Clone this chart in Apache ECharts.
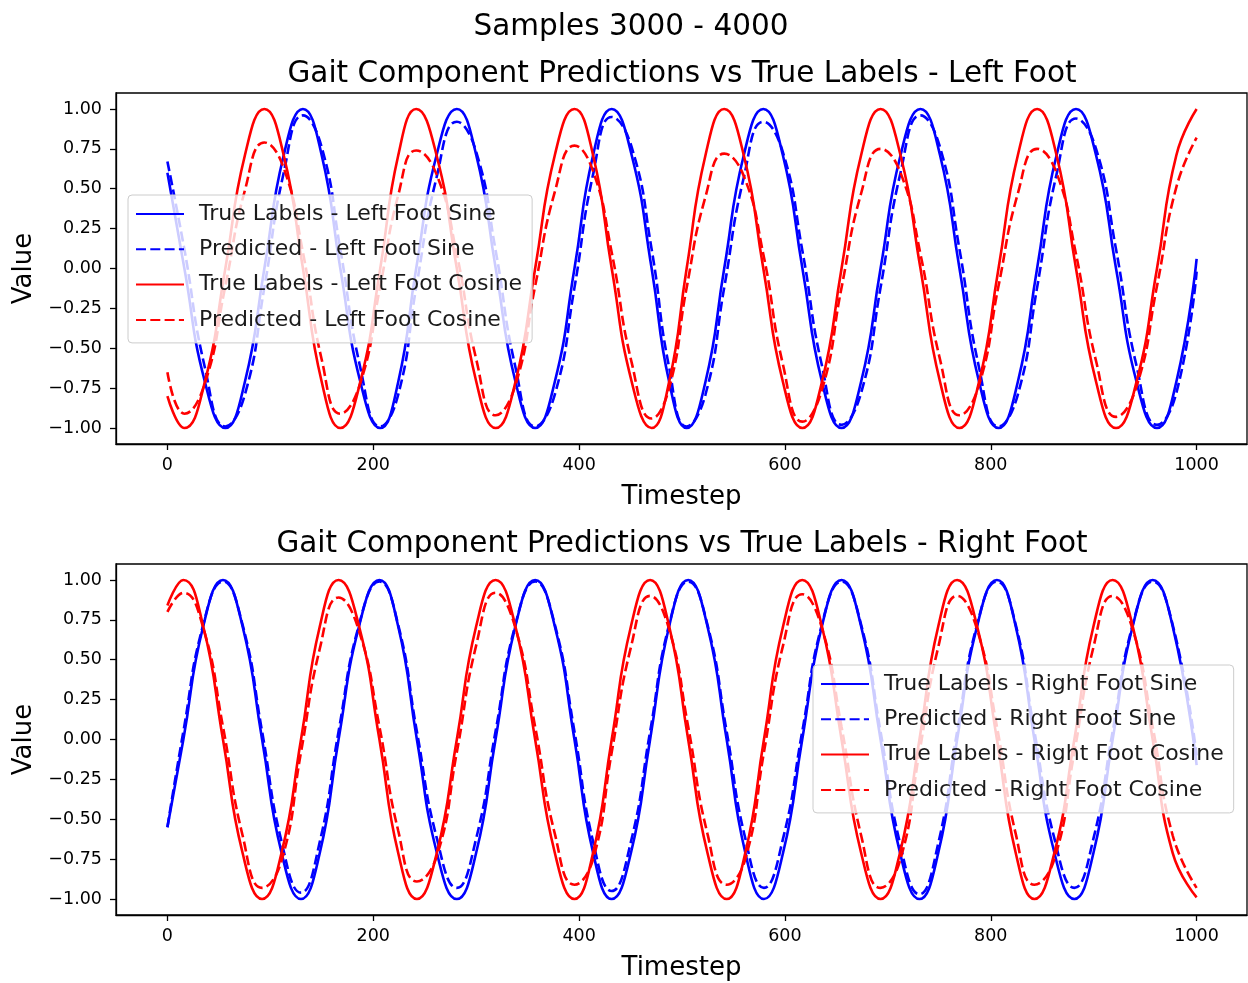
<!DOCTYPE html>
<html>
<head>
<meta charset="utf-8">
<title>Gait Component Predictions vs True Labels</title>
<script src="https://cdn.jsdelivr.net/npm/echarts@6/dist/echarts.min.js"></script>
<style>
  html, body { margin: 0; padding: 0; background: #ffffff; }
  #chart { width: 1248px; height: 983px; }
</style>
</head>
<body>
<div id="chart"></div>
<script>
// ---- Left foot: sample timesteps and component values ----
const leftT = [0, 16.5, 36.4, 56.3, 75.3, 94.2, 113, 131.7, 149.9, 168, 187.4, 206.8, 224.3, 241.7,
  261.5, 281.2, 300.1, 319, 338.2, 357.3, 376.4, 395.5, 413.6, 431.7, 451.1, 470.5, 487.5, 504.5,
  522.8, 541, 560, 579, 598, 617, 636, 655, 674, 692.9, 712.3, 731.7, 750.7, 769.6, 788.6, 807.5,
  826.3, 845, 863.9, 882.8, 902.3, 921.7, 941.6, 961.5, 980.3, 1000];

const leftSinTrue = [0.60,
  0, -0.71, -1, -0.71, 0, 0.71, 1, 0.71,
  0, -0.71, -1, -0.71, 0, 0.71, 1, 0.71,
  0, -0.71, -1, -0.71, 0, 0.71, 1, 0.71,
  0, -0.71, -1, -0.71, 0, 0.71, 1, 0.71,
  0, -0.71, -1, -0.71, 0, 0.71, 1, 0.71,
  0, -0.71, -1, -0.71, 0, 0.71, 1, 0.71,
  0, -0.71, -1, -0.71,
  0.06];

const leftSinPred = [0.67,
  0.12, -0.62, -0.99, -0.79, -0.12, 0.60, 0.96, 0.76,
  0.12, -0.62, -0.99, -0.79, -0.12, 0.57, 0.92, 0.73,
  0.11, -0.62, -0.99, -0.79, -0.12, 0.59, 0.95, 0.76,
  0.12, -0.62, -0.99, -0.79, -0.12, 0.57, 0.92, 0.73,
  0.11, -0.61, -0.98, -0.78, -0.12, 0.60, 0.96, 0.76,
  0.12, -0.62, -0.99, -0.79, -0.12, 0.59, 0.94, 0.75,
  0.12, -0.61, -0.98, -0.78,
  -0.02];

const leftCosTrue = [-0.80,
  -1, -0.71, 0, 0.71, 1, 0.71, 0, -0.71,
  -1, -0.71, 0, 0.71, 1, 0.71, 0, -0.71,
  -1, -0.71, 0, 0.71, 1, 0.71, 0, -0.71,
  -1, -0.71, 0, 0.71, 1, 0.71, 0, -0.71,
  -1, -0.71, 0, 0.71, 1, 0.71, 0, -0.71,
  -1, -0.71, 0, 0.71, 1, 0.71, 0, -0.71,
  -1, -0.71, 0, 0.71,
  1.00];

const leftCosPred = [-0.65,
  -0.91, -0.72, -0.11, 0.49, 0.79, 0.63, 0.10, -0.57,
  -0.91, -0.72, -0.11, 0.46, 0.74, 0.59, 0.09, -0.57,
  -0.92, -0.73, -0.11, 0.48, 0.77, 0.61, 0.10, -0.59,
  -0.94, -0.75, -0.12, 0.45, 0.72, 0.58, 0.09, -0.60,
  -0.96, -0.76, -0.12, 0.47, 0.75, 0.60, 0.09, -0.57,
  -0.92, -0.73, -0.11, 0.47, 0.75, 0.60, 0.09, -0.58,
  -0.93, -0.74, -0.11, 0.51,
  0.82];

// ---- Right foot: sample timesteps and component values ----
const rightT = [0, 15.5, 34.8, 54, 73, 92, 110.9, 129.8, 148.1, 166.3, 186.2, 206, 224.2, 242.4,
  261.8, 281.2, 300, 318.8, 338.1, 357.3, 376.4, 395.5, 413.6, 431.7, 450.4, 469, 487.5, 506,
  524.7, 543.4, 561.5, 579.6, 598.2, 616.8, 635.9, 655, 674, 692.9, 711.8, 730.7, 749, 767.3,
  786.7, 806, 824.2, 842.4, 861.8, 881.2, 899.8, 918.4, 937.9, 957.3, 976.7, 1000];

const rightSinTrue = [-0.55,
  0, 0.71, 1, 0.71, 0, -0.71, -1, -0.71,
  0, 0.71, 1, 0.71, 0, -0.71, -1, -0.71,
  0, 0.71, 1, 0.71, 0, -0.71, -1, -0.71,
  0, 0.71, 1, 0.71, 0, -0.71, -1, -0.71,
  0, 0.71, 1, 0.71, 0, -0.71, -1, -0.71,
  0, 0.71, 1, 0.71, 0, -0.71, -1, -0.71,
  0, 0.71, 1, 0.71,
  -0.16];

const rightSinPred = [-0.55,
  0.05, 0.72, 0.99, 0.72, 0.05, -0.64, -0.96, -0.64,
  0.05, 0.72, 0.99, 0.72, 0.05, -0.62, -0.93, -0.62,
  0.05, 0.72, 0.99, 0.72, 0.05, -0.64, -0.95, -0.64,
  0.05, 0.72, 0.99, 0.72, 0.05, -0.62, -0.93, -0.62,
  0.05, 0.72, 0.99, 0.72, 0.05, -0.65, -0.97, -0.65,
  0.05, 0.72, 0.99, 0.72, 0.05, -0.62, -0.93, -0.62,
  0.05, 0.72, 0.99, 0.72,
  -0.10];

const rightCosTrue = [0.84,
  1, 0.71, 0, -0.71, -1, -0.71, 0, 0.71,
  1, 0.71, 0, -0.71, -1, -0.71, 0, 0.71,
  1, 0.71, 0, -0.71, -1, -0.71, 0, 0.71,
  1, 0.71, 0, -0.71, -1, -0.71, 0, 0.71,
  1, 0.71, 0, -0.71, -1, -0.71, 0, 0.71,
  1, 0.71, 0, -0.71, -1, -0.71, 0, 0.71,
  1, 0.71, 0, -0.71,
  -0.99];

const rightCosPred = [0.80,
  0.92, 0.70, 0.08, -0.60, -0.93, -0.76, -0.08, 0.57,
  0.89, 0.68, 0.08, -0.57, -0.89, -0.73, -0.08, 0.59,
  0.92, 0.70, 0.08, -0.59, -0.91, -0.75, -0.08, 0.58,
  0.90, 0.69, 0.08, -0.59, -0.91, -0.75, -0.08, 0.59,
  0.91, 0.70, 0.08, -0.60, -0.93, -0.76, -0.08, 0.58,
  0.90, 0.69, 0.08, -0.59, -0.91, -0.75, -0.08, 0.58,
  0.90, 0.69, 0.08, -0.60,
  -0.93];

// ---- Axis ticks ----
const xTicks = [0, 200, 400, 600, 800, 1000];
const yTicks = [-1, -0.75, -0.5, -0.25, 0, 0.25, 0.5, 0.75, 1];

const FONT = 'DejaVu Sans';
const BLUE = '#0000ff';
const RED = '#ff0000';
const DASH = [10, 4.3];

function pairs(ts, vs) {
  return ts.map((t, i) => [t, vs[i]]);
}

function fmtY(v) {
  const s = Math.abs(v).toFixed(2);
  return v < 0 ? '\u2212' + s : s;
}

function makeX(gi) {
  return {
    type: 'value', gridIndex: gi, min: -49.95, max: 1048.95,
    name: 'Timestep', nameLocation: 'middle', nameGap: 40,
    nameTextStyle: { fontFamily: FONT, fontSize: 26, color: '#000' },
    axisLine: { show: true, onZero: false, lineStyle: { color: '#000', width: 1.3 } },
    axisTick: { show: true, inside: false, length: 6, customValues: xTicks,
      lineStyle: { color: '#000', width: 1.3 } },
    axisLabel: { show: true, margin: 12, customValues: xTicks, fontFamily: FONT,
      fontSize: 17.5, color: '#000', formatter: v => String(v) },
    splitLine: { show: false }
  };
}

function makeY(gi) {
  return {
    type: 'value', gridIndex: gi, min: -1.1, max: 1.1,
    name: 'Value', nameLocation: 'middle', nameGap: 77, nameRotate: 90,
    nameTextStyle: { fontFamily: FONT, fontSize: 26, color: '#000' },
    axisLine: { show: true, onZero: false, lineStyle: { color: '#000', width: 1.3 } },
    axisTick: { show: true, inside: false, length: 6, customValues: yTicks,
      lineStyle: { color: '#000', width: 1.3 } },
    axisLabel: { show: true, margin: 14, customValues: yTicks, fontFamily: FONT,
      fontSize: 17.5, color: '#000', formatter: fmtY },
    splitLine: { show: false }
  };
}

function line(name, gi, ts, vs, color, dashed) {
  return {
    name: name, type: 'line', xAxisIndex: gi, yAxisIndex: gi,
    data: pairs(ts, vs), symbol: 'none', showSymbol: false, smooth: 0.5,
    lineStyle: { color: color, width: 2.6, type: dashed ? DASH : 'solid' },
    itemStyle: { color: color },
    emphasis: { disabled: true }
  };
}

const leftNames = ['True Labels - Left Foot Sine', 'Predicted - Left Foot Sine',
  'True Labels - Left Foot Cosine', 'Predicted - Left Foot Cosine'];
const rightNames = ['True Labels - Right Foot Sine', 'Predicted - Right Foot Sine',
  'True Labels - Right Foot Cosine', 'Predicted - Right Foot Cosine'];

function makeLegend(names, left, top) {
  return {
    data: names, orient: 'vertical', left: left, top: top, align: 'left',
    itemWidth: 48, itemHeight: 14, itemGap: 9.3, padding: [6, 10, 10, 7],
    backgroundColor: 'rgba(255,255,255,0.8)', borderColor: '#cccccc',
    borderWidth: 1, borderRadius: 4, selectedMode: false,
    itemStyle: { opacity: 0 },
    textStyle: { fontFamily: FONT, fontSize: 22, color: '#1a1a1a', lineHeight: 26,
      padding: [0, 0, 0, 10] }
  };
}

function titleText(text, x, y) {
  return {
    type: 'text', x: x, y: y, silent: true,
    style: { text: text, fontFamily: FONT, fontSize: 29.5, fill: '#000',
      textAlign: 'center', textVerticalAlign: 'middle' }
  };
}

const chart = echarts.init(document.getElementById('chart'), null, { renderer: 'canvas' });

chart.setOption({
  animation: false,
  backgroundColor: '#ffffff',
  grid: [
    { left: 116, top: 93, width: 1131, height: 351, show: true, borderColor: '#000',
      borderWidth: 1.3, outerBoundsMode: 'none' },
    { left: 116, top: 564, width: 1131, height: 351, show: true, borderColor: '#000',
      borderWidth: 1.3, outerBoundsMode: 'none' }
  ],
  xAxis: [makeX(0), makeX(1)],
  yAxis: [makeY(0), makeY(1)],
  legend: [makeLegend(leftNames, 128, 195), makeLegend(rightNames, 813, 665)],
  graphic: [
    titleText('Samples 3000 - 4000', 631, 27),
    titleText('Gait Component Predictions vs True Labels - Left Foot', 682, 74),
    titleText('Gait Component Predictions vs True Labels - Right Foot', 682, 544)
  ],
  series: [
    line(leftNames[0], 0, leftT, leftSinTrue, BLUE, false),
    line(leftNames[1], 0, leftT, leftSinPred, BLUE, true),
    line(leftNames[2], 0, leftT, leftCosTrue, RED, false),
    line(leftNames[3], 0, leftT, leftCosPred, RED, true),
    line(rightNames[0], 1, rightT, rightSinTrue, BLUE, false),
    line(rightNames[1], 1, rightT, rightSinPred, BLUE, true),
    line(rightNames[2], 1, rightT, rightCosTrue, RED, false),
    line(rightNames[3], 1, rightT, rightCosPred, RED, true)
  ]
});
</script>
</body>
</html>
